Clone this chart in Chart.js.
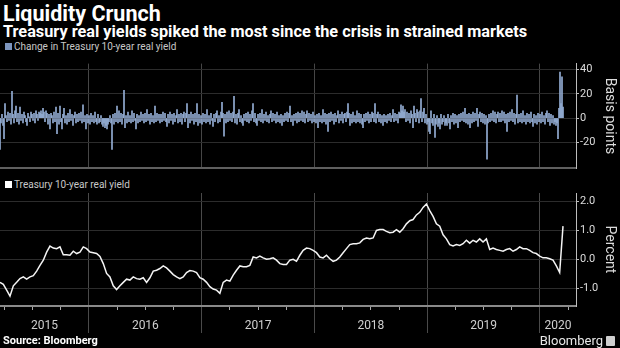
<!DOCTYPE html>
<html>
<head>
<meta charset="utf-8">
<script src="https://cdn.jsdelivr.net/npm/chart.js@4.4.1/dist/chart.umd.min.js"></script>
<style>
  html, body { margin: 0; padding: 0; background: #000; }
  body { width: 620px; height: 348px; position: relative; overflow: hidden;
         font-family: Roboto, "Liberation Sans", sans-serif; color: #fff; }
  .abs { position: absolute; white-space: nowrap; }
  #title { left: 3px; top: 2px; font-weight: 700; font-size: 21.5px; line-height: 24px; }
  #subtitle { left: 3px; top: 23px; font-weight: 700; font-size: 16.3px; line-height: 18px; }
  .legend { font-size: 10px; line-height: 12px; color: #c8c8c8; }
  .legend i { display: inline-block; width: 7px; height: 7px; margin-right: 2px; vertical-align: 0px; }
  #legendBars { left: 5px; top: 41px; }
  #legendLine { left: 5px; top: 179px; }
  #barsCanvas { left: 0; top: 56px; }
  #lineCanvas { left: 0; top: 176px; }
  #source { left: 3px; top: 334px; font-weight: 700; font-size: 11px; line-height: 13px; }
  #brand { right: 17px; top: 333px; font-size: 13px; line-height: 15px; color: #e8e8e8; }
  #brandMark { left: 606px; top: 336px; width: 9px; height: 10px; background: #cfcfcf; border-radius: 1px; }
</style>
</head>
<body>
<div class="abs" id="title">Liquidity Crunch</div>
<div class="abs" id="subtitle">Treasury real yields spiked the most since the crisis in strained markets</div>
<div class="abs legend" id="legendBars"><i style="background:#7d95bd"></i>Change in Treasury 10-year real yield</div>
<div class="abs legend" id="legendLine"><i style="background:#ffffff"></i>Treasury 10-year real yield</div>
<canvas class="abs" id="barsCanvas" width="620" height="120"></canvas>
<canvas class="abs" id="lineCanvas" width="620" height="172"></canvas>
<div class="abs" id="source">Source: Bloomberg</div>
<div class="abs" id="brand">Bloomberg</div>
<div class="abs" id="brandMark"></div>

<script>
// Observation window, in fractional years (mid-March 2015 to mid-March 2020)
const firstObs = 2015.2107;
const lastObs = 2020.2040;
// Visible x range of both panels
const axisStart = 2015.2107;
const axisEnd = 2020.3193;

// Daily change in the 10-year real yield, basis points
const bpsChange = [
  -26, -4, 3, -6, -17, 12, 2, -3, 5, -2, 4, -5, 22, 3, -4, 6, 10, -3, 4, -5,
  9, -2, 3, -4, 5, 2, -3, -6, 4, 1, -3, 5, 3, -2, 4, -4, 6, 3, -2, 5,
  4, 6, 3, 8, 5, -3, 6, 4, -5, 3, -9, 4, 2, -4, 5, -3, 9, -13, 4, -5,
  10, -3, -9, 3, 8, -4, 2, -5, 4, -3, 7, -2, 3, -6, 2, 5, -4, 3, -3, 4,
  -2, 5, -4, 11, -3, 2, -9, 3, -4, 2, -5, 4, -3, 2, -4, 5, -3, -5, 3, -4,
  -3, 2, -5, -7, -4, -8, -6, -9, -5, -3, 2, -4, -26, 3, -5, 4, -3, 10, -4, 6,
  -3, 4, -5, 3, 23, -8, 2, -4, 5, -3, 2, -4, 6, -3, 4, -2, -9, 3, -4, 2,
  -3, 5, -2, 3, -4, 4, -3, 7, -2, 3, -5, 4, -3, 2, -4, 10, -3, 4, -2, 3,
  -4, 3, -3, 5, -2, 4, -3, -7, 3, -4, 5, -2, 3, -5, 4, -3, 2, 7, -4, 3,
  -3, 4, -5, 3, 5, -3, 4, 12, -8, 3, -4, 5, -2, 3, -5, 4, -3, 12, -6, 3,
  -4, 2, -5, 4, -3, 3, -4, 7, -3, 2, -5, 4, -2, -7, 3, -3, 4, 6, -4, 2,
  -3, 5, 13, 4, -15, 3, -4, 5, -3, 6, -2, 4, -3, 5, 18, -4, 3, -5, 4, 7,
  -3, 2, -4, -6, 3, -2, 4, -3, 5, -4, 3, -2, 6, 12, -3, 4, -4, -6, 3, -2,
  4, -3, 7, -4, 3, -2, 5, -3, 2, -4, 3, 6, -3, 4, -2, 3, -4, 5, -3, 2,
  -4, 3, -6, 2, -3, 4, -2, 5, -3, 4, 10, -3, 2, -6, 3, -2, 4, -4, 5, -3,
  4, -2, 6, -3, 5, -4, 3, 6, -3, 4, -2, 3, -4, 5, -3, 2, -4, 3, -8, 4,
  -3, 2, -4, 7, -3, 4, -5, 3, -11, 4, -3, 5, -2, 3, -5, 4, -3, 2, 6, -4,
  3, -2, 5, -4, 3, 4, -3, 5, 12, 4, -6, 3, -4, 5, -3, 2, -4, 6, -3, 4,
  -4, 3, -5, -8, 3, -3, 4, -2, 5, -4, 3, -3, 5, 4, -3, 12, -4, 3, 5, -3,
  3, -4, 2, -6, 3, -3, 2, -4, 3, -2, 4, -3, 2, 7, -3, 4, -2, 3, -4, 5,
  4, 11, 6, 10, 5, 7, -3, 5, -2, 4, -4, 6, 3, -8, 10, 4, -3, 7, 5, -4,
  6, 16, -3, 5, 8, -4, 3, -5, -3, -11, -13, 6, -4, -6, 3, -16, -5, 2, -7, -4,
  -9, 3, -5, -3, 2, -6, -4, -6, 3, -4, -9, 2, -3, 4, -5, 3, -4, 2, -8, 3,
  -3, 4, -2, 5, -3, 8, -4, 3, -5, 4, -8, 3, -4, 5, -3, 4, -2, 8, -7, 3,
  5, -3, 4, -4, 3, -5, 2, -34, -4, 3, -3, 4, -2, 6, -3, 5, -4, 3, 5, -3,
  4, -3, 6, -2, 5, -4, 3, -11, 4, -3, 5, -2, 7, -3, 4, -5, 3, 19, -4, 3,
  -3, 4, -4, 6, -3, 2, -5, 4, -3, 3, -4, 5, -3, -7, 3, -4, 2, -5, 4, -3,
  3, -4, 5, -3, 2, -5, 4, 6, -3, 4, -6, 3, -4, 2, -5, -3, -6, -4, -17, 8,
  38, 12, 34, 9
];

// 10-year real yield, percent
const realYield = [
  -0.80, -0.87, -1.07, -1.28, -0.92, -0.80, -0.67, -0.61, -0.69, -0.61,
  -0.57, -0.41, -0.21, -0.03, 0.25, 0.46, 0.39, 0.37, 0.43, 0.16,
  0.16, 0.14, 0.28, 0.20, 0.25, 0.43, 0.37, 0.25, 0.23, 0.20,
  0.10, -0.15, -0.49, -0.61, -0.92, -1.05, -0.92, -0.80, -0.69, -0.72,
  -0.61, -0.67, -0.69, -0.64, -0.80, -0.64, -0.41, -0.38, -0.32, -0.23,
  -0.30, -0.41, -0.53, -0.61, -0.67, -0.61, -0.46, -0.39, -0.41, -0.46,
  -0.64, -0.69, -0.80, -0.95, -1.03, -1.07, -1.18, -0.80, -0.72, -0.76,
  -0.55, -0.38, -0.23, -0.26, -0.26, -0.21, 0.08, 0.05, 0.11, 0.05,
  0.00, 0.02, 0.05, -0.03, -0.15, -0.18, -0.18, -0.03, 0.00, -0.07,
  0.14, 0.31, 0.39, 0.37, 0.31, 0.23, 0.08, 0.05, 0.14, 0.02,
  -0.07, -0.03, 0.08, 0.23, 0.37, 0.51, 0.54, 0.54, 0.57, 0.69,
  0.74, 0.71, 0.74, 1.00, 1.03, 1.03, 0.97, 0.92, 0.94, 1.03,
  0.94, 1.06, 1.23, 1.34, 1.38, 1.54, 1.63, 1.80, 1.92, 1.69,
  1.49, 1.23, 1.15, 0.85, 0.71, 0.51, 0.46, 0.51, 0.48, 0.54,
  0.66, 0.56, 0.66, 0.60, 0.71, 0.60, 0.71, 0.34, 0.39, 0.34,
  0.31, 0.28, 0.34, 0.37, 0.28, 0.34, 0.43, 0.37, 0.37, 0.31,
  0.23, 0.20, 0.11, 0.05, 0.05, 0.02, -0.03, -0.23, -0.46, 1.15
];

// Axis ticks
const bpsTicks = [-20, 0, 20, 40];
const pctTicks = [-1, 0, 1, 2];
const yearBreaks = [2016, 2017, 2018, 2019, 2020];
const yearLabels = ['2015', '2016', '2017', '2018', '2019', '2020'];

const fontFamily = 'Roboto, "Liberation Sans", sans-serif';

// Spread a series evenly over the observation window
function onTimeline(values) {
  const step = (lastObs - firstObs) / (values.length - 1);
  return values.map((v, i) => ({ x: firstObs + i * step, y: v }));
}

function fixedTicks(list) {
  return scale => { scale.ticks = list.map(v => ({ value: v })); };
}

// Quarter marks, year separators and one centred label per visible year
function timeTicks(scale) {
  const ticks = [];
  for (let q = Math.ceil(axisStart * 4); q <= Math.floor(axisEnd * 4); q++) {
    const v = q / 4;
    ticks.push({ value: v, kind: Number.isInteger(v) ? 'year' : 'quarter' });
  }
  yearLabels.forEach(label => {
    const y = Number(label);
    const a = Math.max(y, axisStart), b = Math.min(y + 1, axisEnd);
    ticks.push({ value: (a + b) / 2, kind: 'label', text: label });
  });
  scale.ticks = ticks;
}

Chart.defaults.font.family = fontFamily;

const rightAxis = (ticks, title, min, max, fmt) => ({
  position: 'right',
  min, max,
  bounds: 'data',
  afterBuildTicks: fixedTicks(ticks),
  afterFit: s => { s.width = 44; },
  grid: { color: '#2c2c2c', lineWidth: 1, tickColor: '#bdbdbd', tickLength: 3 },
  border: { color: '#bdbdbd', width: 1 },
  ticks: { color: '#dcdcdc', font: { size: 11 }, padding: 1, callback: fmt },
  title: { display: true, text: title, color: '#dcdcdc', font: { size: 14 }, padding: { top: 2, bottom: 0 } }
});

new Chart(document.getElementById('barsCanvas'), {
  type: 'bar',
  data: {
    datasets: [{
      label: 'Change in Treasury 10-year real yield',
      data: onTimeline(bpsChange),
      backgroundColor: '#93acd3',
      borderWidth: 0,
      barPercentage: 1,
      categoryPercentage: 1
    }]
  },
  options: {
    responsive: false,
    animation: false,
    devicePixelRatio: 1,
    layout: { padding: { top: 5, bottom: 3, left: 0, right: 0 } },
    plugins: { legend: { display: false }, tooltip: { enabled: false } },
    scales: {
      x: {
        type: 'linear', min: axisStart, max: axisEnd, bounds: 'data',
        offset: false,
        afterBuildTicks: fixedTicks(yearBreaks),
        afterFit: s => { s.height = 0; },
        grid: { color: '#464646', lineWidth: 1, drawTicks: false, offset: false },
        border: { color: '#5f5f5f', width: 2 },
        ticks: { display: false }
      },
      y: rightAxis(bpsTicks, 'Basis points', -41.6, 45, v => String(v))
    }
  }
});

new Chart(document.getElementById('lineCanvas'), {
  type: 'line',
  data: {
    datasets: [{
      label: 'Treasury 10-year real yield',
      data: onTimeline(realYield),
      borderColor: '#f4f4f4',
      borderWidth: 1.5,
      pointRadius: 0,
      tension: 0,
      fill: false
    }]
  },
  options: {
    responsive: false,
    animation: false,
    devicePixelRatio: 1,
    layout: { padding: { top: 17, bottom: 0, left: 0, right: 0 } },
    plugins: { legend: { display: false }, tooltip: { enabled: false } },
    scales: {
      x: {
        type: 'linear', min: axisStart, max: axisEnd, bounds: 'data',
        offset: false,
        afterBuildTicks: timeTicks,
        afterFit: s => { s.height = 42; },
        grid: {
          offset: false,
          color: c => (c.tick && c.tick.kind === 'year') ? '#4a4a4a' : 'rgba(0,0,0,0)',
          tickColor: c => {
            if (!c.tick) return 'rgba(0,0,0,0)';
            if (c.tick.kind === 'year') return '#4a4a4a';
            if (c.tick.kind === 'quarter') return '#a8a8a8';
            return 'rgba(0,0,0,0)';
          },
          tickBorderDash: c => (c.tick && c.tick.kind === 'year') ? [] : [3, 80],
          tickLength: 27,
          lineWidth: 1
        },
        border: { color: '#8a8a8a', width: 2 },
        ticks: {
          autoSkip: false, maxRotation: 0, minRotation: 0,
          padding: -14,
          color: '#cfcfcf',
          font: { size: 12 },
          callback: (v, i, t) => t[i].text || ''
        }
      },
      y: rightAxis(pctTicks, 'Percent', -1.62, 2.30, v => Number(v).toFixed(1))
    }
  }
});
</script>
</body>
</html>
